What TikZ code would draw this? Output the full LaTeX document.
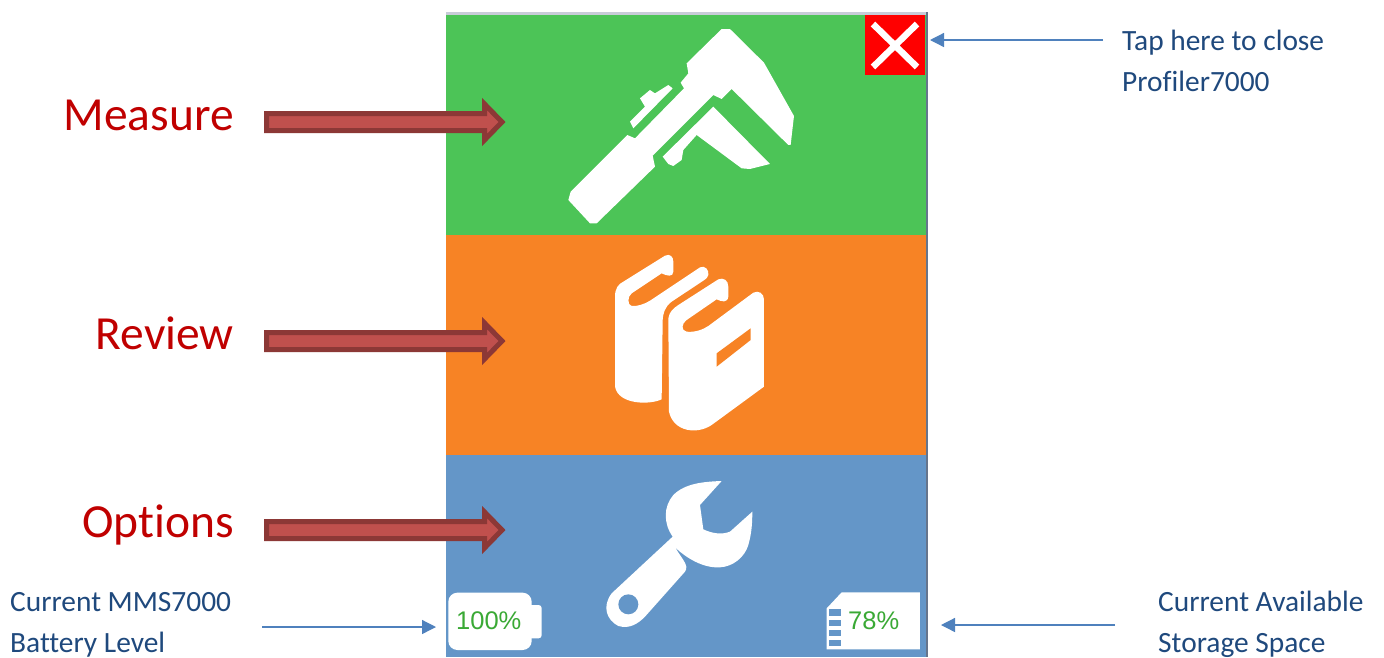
\documentclass[tikz,border=0pt]{standalone}
\usepackage{fontspec}
\setmainfont{Carlito}[Ligatures=NoCommon]
\newfontfamily\digitfont{Liberation Sans}
\usetikzlibrary{arrows.meta,calc}
\definecolor{pgreen}{HTML}{4CC457}
\definecolor{porange}{HTML}{F78325}
\definecolor{pblue}{HTML}{6496C8}
\definecolor{arrowdark}{HTML}{8C3836}
\definecolor{arrowfill}{HTML}{C0504D}
\definecolor{callout}{HTML}{4F81BD}
\definecolor{calltext}{HTML}{1F497D}
\definecolor{redtext}{HTML}{C00000}
\definecolor{pct}{HTML}{3AA935}
\definecolor{topline}{HTML}{C8CCD8}
\definecolor{sideline}{HTML}{66758C}
\tikzset{
  x=1pt,y=-1pt,
  bigtext/.style={anchor=base east,inner sep=0pt,text=redtext,font=\fontsize{47.5}{47.5}\selectfont},
  smalltext/.style={anchor=base west,inner sep=0pt,text=calltext,font=\fontsize{29.4}{29.4}\selectfont},
  pcttext/.style={anchor=base west,inner sep=0pt,text=pct,font=\digitfont\fontsize{25.5}{25.5}\selectfont},
  callarrow/.style={draw=callout,line width=1.3pt,-{Triangle[length=14pt,width=14pt]}},
  bigarrow/.style={draw=arrowdark,fill=arrowfill,line width=5pt,miter limit=10},
  iconfill/.style={fill=white,draw=none},
}
\newcommand{\fatarrow}[2]{%
  \coordinate (#1s) at (266.5,#2);
  \coordinate (#1e) at (502,#2);
  \draw[bigarrow] ($(#1s)+(0,-8.5)$) -- ($(#1e)+(-17.5,-8.5)$) -- ($(#1e)+(-17.5,-18)$) -- (#1e)
    -- ($(#1e)+(-17.5,18)$) -- ($(#1e)+(-17.5,8.5)$) -- ($(#1s)+(0,8.5)$) -- cycle;}
\begin{document}
\begin{tikzpicture}
\useasboundingbox (0,0) rectangle (1384,657);
\fill[white] (0,0) rectangle (1384,657);
% panels
\fill[topline] (446,12) rectangle (926,15);
\fill[pgreen] (446,15) rectangle (926,235);
\fill[porange] (446,235) rectangle (926,455);
\fill[pblue] (446,455) rectangle (926,657);
\fill[sideline] (926,12) rectangle (928,657);
% close button
\fill[red] (865,15) rectangle (925,75);
\draw[white,line width=6.5pt] (873,24) -- (917,67) (917,24) -- (873,67);
% caliper
\begin{scope}[shift={(540,10)},x=0.3333pt,y=-0.3333pt]
\fill[iconfill] (545,57) -- (570,57) -- (672,158) -- (762,318) -- (752,405) -- (745,405) -- (575,237) -- (545,267) -- (520,255) -- (338,437) -- (345,470) -- (170,640) -- (150,640) -- (85,570) -- (92,545) -- (262,375) -- (285,385) -- (432,235) -- (422,218) -- (445,190) -- (440,160) -- cycle;
\fill[iconfill] (385,225) -- (398,235) -- (280,355) -- (270,335) -- (315,290) -- (300,265) -- (330,240) -- (345,250) -- cycle;
\fill[iconfill] (520,290) -- (690,462) -- (630,477) -- (605,475) -- (470,375) -- (430,420) -- (425,450) -- (400,468) -- (385,462) -- (368,440) -- cycle;
\end{scope}
% books
\begin{scope}[shift={(590,240)},x=0.3333pt,y=-0.3333pt]
\fill[iconfill] (75,170) .. controls (75,145) and (85,132) .. (100,125) -- (225,47) .. controls (240,40) and (250,50) .. (250,65) -- (250,95) .. controls (250,112) and (230,108) .. (215,100) -- (125,160) .. controls (112,170) and (112,195) .. (125,198) .. controls (140,200) and (165,192) .. (180,182) -- (330,82) .. controls (345,75) and (358,90) .. (355,105) .. controls (354,112) and (350,115) .. (340,122) -- (245,185) .. controls (225,200) and (218,220) .. (218,245) -- (215,478) .. controls (180,495) and (85,495) .. (75,440) -- cycle;
\fill[iconfill] (235,235) .. controls (238,215) and (250,205) .. (265,195) -- (385,118) .. controls (400,112) and (415,120) .. (415,140) -- (415,170) .. controls (412,190) and (395,185) .. (380,178) -- (290,240) .. controls (275,250) and (272,272) .. (290,275) .. controls (315,278) and (340,268) .. (355,258) -- (490,158) .. controls (505,150) and (522,160) .. (522,178) -- (522,440) -- (365,555) .. controls (320,585) and (250,575) .. (237,515) -- cycle;
\fill[porange] (380,340) -- (482,265) -- (482,300) -- (380,380) -- cycle;
\end{scope}
% wrench
\begin{scope}[shift={(590,470)},x=0.3333pt,y=-0.3333pt]
\fill[iconfill] (395,33) .. controls (340,35) and (285,40) .. (250,75) .. controls (220,110) and (220,160) .. (248,200) -- (65,370) .. controls (35,410) and (50,450) .. (85,468) .. controls (120,478) and (145,460) .. (165,440) -- (285,305) .. controls (292,295) and (290,285) .. (280,270) -- (255,232) .. controls (290,265) and (340,295) .. (390,292) .. controls (430,290) and (465,260) .. (475,225) .. controls (485,190) and (487,160) .. (487,125) -- (420,185) .. controls (395,195) and (365,190) .. (340,178) -- (330,105) -- cycle;
\fill[pblue] (115,403) circle[radius=30];
\end{scope}
% battery
\begin{scope}[shift={(420,580)},x=0.3333pt,y=-0.3333pt]
\fill[iconfill,rounded corners=9pt] (85,38) rectangle (335,210);
\fill[iconfill,rounded corners=3pt] (310,75) rectangle (365,175);
\end{scope}
\node[pcttext] (batt) at (456,629) {100\%};
% storage card
\begin{scope}[shift={(810,580)},x=0.3333pt,y=-0.3333pt]
\fill[iconfill] (50,85) -- (95,37) -- (330,37) -- (330,208) -- (50,208) -- cycle;
\foreach \yy in {88,120,150,180}{\fill[pblue] (58,\yy) rectangle (92,\yy+19);}
\end{scope}
\node[pcttext] (stor) at (848,629) {78\%};
% big labels and arrows
\node[bigtext] (measure) at (234,130.5) {Measure};
\node[bigtext] (review) at (234,349) {Review};
\node[bigtext] (options) at (234,537.5) {Options};
\fatarrow{ma}{122}
\fatarrow{ra}{341}
\fatarrow{oa}{530}
% callouts
\node[smalltext] (tap) at (1122,50) {Tap here to close};
\node[smalltext] (prof) at (1122,91) {Profiler7000};
\node[smalltext] (avail) at (1158,611.5) {Current Available};
\node[smalltext] (space) at (1158,652) {Storage Space};
\node[smalltext] (mms) at (10,611.5) {Current MMS7000};
\node[smalltext] (level) at (10,652) {Battery Level};
\coordinate (tapS) at (1103,40); \coordinate (tapE) at (930,40);
\coordinate (batS) at (262,627); \coordinate (batE) at (436,627);
\coordinate (stoS) at (1115,625); \coordinate (stoE) at (941,625);
\draw[callarrow] (tapS) -- (tapE);
\draw[callarrow] (batS) -- (batE);
\draw[callarrow] (stoS) -- (stoE);
\end{tikzpicture}
\end{document}
